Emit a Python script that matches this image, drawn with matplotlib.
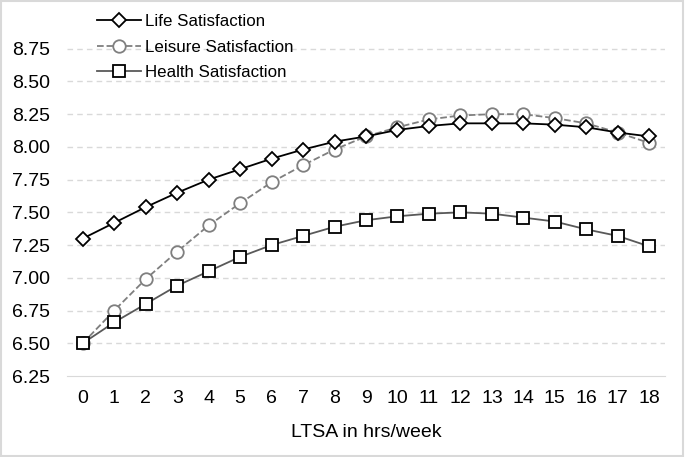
import matplotlib.pyplot as plt
from matplotlib.patches import Rectangle

plt.rcParams['font.family'] = ['Liberation Sans', 'DejaVu Sans']

hours = list(range(19))
life = [7.30, 7.42, 7.54, 7.65, 7.75, 7.83, 7.91, 7.98, 8.04, 8.08, 8.13, 8.16,
        8.18, 8.18, 8.18, 8.17, 8.15, 8.11, 8.08]
leisure = [6.50, 6.75, 6.99, 7.20, 7.40, 7.57, 7.73, 7.86, 7.98, 8.08, 8.15, 8.21,
           8.24, 8.25, 8.25, 8.22, 8.18, 8.11, 8.03]
health = [6.50, 6.66, 6.80, 6.94, 7.05, 7.16, 7.25, 7.32, 7.39, 7.44, 7.47, 7.49,
          7.50, 7.49, 7.46, 7.43, 7.37, 7.32, 7.24]
yticks = [6.25, 6.50, 6.75, 7.00, 7.25, 7.50, 7.75, 8.00, 8.25, 8.50, 8.75]

fig = plt.figure(figsize=(6.85, 4.57), dpi=100)
ax = fig.add_axes([67 / 685, 81 / 457, 598 / 685, 360 / 457])

l2, = ax.plot(hours, leisure, '--o', color='#7f7f7f', lw=1.3, ms=9,
              mfc='white', mec='#7f7f7f', mew=1.3, zorder=3)
l3, = ax.plot(hours, health, '-s', color='#595959', lw=1.3, ms=9,
              mfc='white', mec='black', mew=1.3, zorder=3)
l1, = ax.plot(hours, life, '-D', color='black', lw=1.3, ms=7.5,
              mfc='white', mec='black', mew=1.3, zorder=4)

ax.set_xlim(-0.5, 18.5)
ax.set_ylim(6.25, 9.0)
ax.set_xticks(hours)
ax.set_yticks(yticks)
ax.set_yticklabels(['%.2f' % v for v in yticks])
for v in yticks[1:]:
    ax.axhline(v, color='#d9d9d9', lw=1, ls=(0, (4, 3)), zorder=1)
for s in ['top', 'right', 'left']:
    ax.spines[s].set_visible(False)
ax.spines['bottom'].set_color('#d9d9d9')
ax.tick_params(length=0, labelsize=14, pad=10)
ax.tick_params(axis='y', pad=12)
ax.set_xlabel('LTSA in hrs/week', fontsize=14, labelpad=12)

ax.legend([l1, l2, l3], ['Life Satisfaction', 'Leisure Satisfaction', 'Health Satisfaction'],
          loc='upper left', bbox_to_anchor=(97 / 685, 1 - 14 / 457),
          bbox_transform=fig.transFigure, frameon=False, fontsize=12.2,
          handlelength=2.6, handletextpad=0.25, labelspacing=0.62, borderaxespad=0,
          borderpad=0)

fig.patches.append(Rectangle((0.002, 0.003), 0.995, 0.994, transform=fig.transFigure,
                             fill=False, ec='#d9d9d9', lw=1.5))
fig.savefig('out.png')
